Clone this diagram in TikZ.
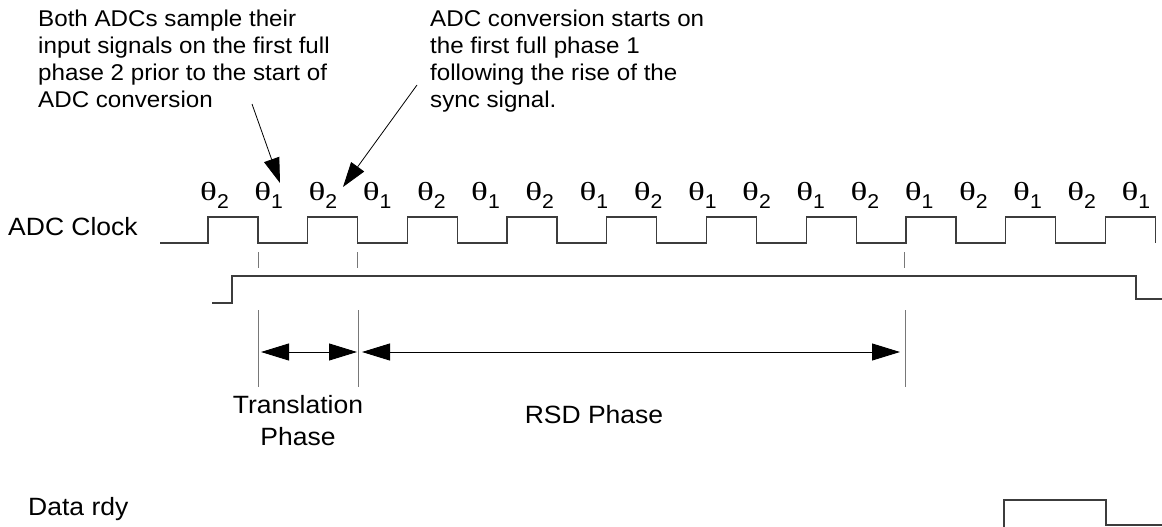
\documentclass[tikz,border=0pt]{standalone}
\usepackage{graphicx}
\usepackage{fontspec}
\setmainfont{Liberation Sans}[FakeStretch=1.06]
\newfontfamily\thetafont{Liberation Serif}
\usetikzlibrary{arrows.meta}
\definecolor{wire}{RGB}{60,60,60}
\definecolor{guide}{RGB}{120,120,120}
% phase label: theta with a lowered index
\newcommand{\phs}[1]{{\fontsize{26}{28}\selectfont\thetafont\scalebox{1.35}[1]{θ}}\raisebox{-8pt}{\fontsize{20}{22}\selectfont #1}}

\begin{document}
\begin{tikzpicture}[x=1pt, y=-1pt,
  wave/.style={draw=wire, line width=1.3pt},
  tickmark/.style={draw=guide, line width=1pt},
  dim/.style={black, line width=0.9pt, {Triangle[length=28pt,width=17pt]}-{Triangle[length=28pt,width=17pt]}},
  callout/.style={black, line width=0.8pt, -{Triangle[length=25pt,width=16pt]}},
  lbl/.style={font=\fontsize{25}{32}\selectfont, inner sep=0pt},
  note/.style={font=\fontsize{22.8}{27}\selectfont, align=left, inner sep=0pt, anchor=north west}]
  \useasboundingbox (0,0) rectangle (1162,527);

  % Notes
  \node[note] (note1) at (38,10) {Both ADCs sample their\\input signals on the first full\\phase 2 prior to the start of\\ADC conversion};
  \node[note] (note2) at (430,10) {ADC conversion starts on\\the first full phase 1\\following the rise of the\\sync signal.};

  % Phase labels
  \foreach \i in {0,...,17} {
    \pgfmathtruncatemacro\sub{2-mod(\i,2)}
    \node[anchor=base west, inner sep=0pt] (th\i) at ({200+54.2*\i},200) {\phs{\sub}};
  }

  % Signal names
  \node[lbl, anchor=base west] (clk) at (8,235) {ADC Clock};
  \node[lbl, anchor=base west] (rdy) at (28,515) {Data rdy};

  % ADC clock
  \draw[wave] (160,243) foreach \k in {0,...,9} {
    -- ({208+99.7*\k},243) -- ({208+99.7*\k},217) -- ({258+99.7*\k},217) -- ({258+99.7*\k},243)};

  % Sync
  \draw[wave] (212,303) -- (232,303) -- (232,276) -- (1136,276) -- (1136,299) -- (1162,299);

  % Data ready
  \draw[wave] (1004,530) -- (1004,500) -- (1106,500) -- (1106,525) -- (1162,525);

  % Marks under the clock
  \foreach \x in {258,357,904}
    \draw[tickmark] (\x,252) -- (\x,268);

  % Phase spans
  \coordinate (g1) at (258,352);
  \coordinate (g2) at (358,352);
  \coordinate (g3) at (905,352);
  \foreach \g in {g1,g2,g3}
    \draw[tickmark] ([yshift=42pt]\g) -- ([yshift=-35pt]\g);
  \draw[dim] ([xshift=3pt]g1) -- ([xshift=-1pt]g2);
  \draw[dim] ([xshift=4pt]g2) -- ([xshift=-5pt]g3);

  \node[lbl, anchor=north, align=center] (trans) at (298,395) {Translation\\Phase};
  \node[lbl, anchor=base] (rsd) at (594,423) {RSD Phase};

  % Callout arrows
  \coordinate (c1) at (252,104);
  \coordinate (c1tip) at (280,183);
  \coordinate (c2) at (417,85);
  \coordinate (c2tip) at (343,187);
  \draw[callout] (c1) -- (c1tip);
  \draw[callout] (c2) -- (c2tip);
\end{tikzpicture}
\end{document}
